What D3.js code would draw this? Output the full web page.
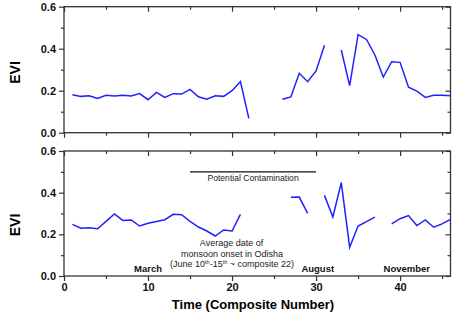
<!DOCTYPE html>
<html>
<head>
<meta charset="utf-8">
<script src="https://cdn.jsdelivr.net/npm/d3@7"></script>
<style>
  body { margin: 0; background: #fff; }
  svg { display: block; font-family: "Liberation Sans", Arial, sans-serif; }
</style>
</head>
<body>
<div id="chart"></div>
<script>
const composites = d3.range(1, 47)

// EVI values per composite, null where there is no data
const eviTop = [0.181, 0.173, 0.176, 0.163, 0.178, 0.175, 0.178, 0.175, 0.186, 0.157,
  0.192, 0.168, 0.186, 0.184, 0.206, 0.171, 0.159, 0.176, 0.173, 0.200,
  0.244, 0.068, null, null, null, 0.159, 0.170, 0.283, 0.243, 0.294,
  0.416, null, 0.394, 0.224, 0.467, 0.444, 0.370, 0.265, 0.338, 0.335,
  0.217, 0.198, 0.168, 0.178, 0.178, 0.176]

const eviBottom = [0.248, 0.229, 0.232, 0.227, 0.262, 0.298, 0.267, 0.269, 0.240, 0.253,
  0.262, 0.270, 0.296, 0.294, 0.262, 0.235, 0.216, 0.192, 0.221, 0.216,
  0.296, null, null, null, null, null, 0.378, 0.379, 0.301, null,
  0.387, 0.283, 0.448, 0.138, 0.240, 0.261, 0.283, null, 0.250, 0.275,
  0.290, 0.242, 0.269, 0.234, 0.250, 0.272]

const xMajor = [0, 10, 20, 30, 40]
const xMinor = [5, 15, 25, 35, 45]
const yMajor = [0, 0.2, 0.4, 0.6]
const yMinor = [0.1, 0.3, 0.5]

const months = [{label: "March", x: 10}, {label: "August", x: 30.2}, {label: "November", x: 40.8}]
const contamination = {from: 15, to: 30, evi: 0.5}
const monsoonX = 20

drawChart("#chart")

function drawChart(id){
  const canvas = {width: 454, height: 317, left: 64, right: 450.5}
  const svg = d3.select(id).append("svg")
    .attr("width", canvas.width).attr("height", canvas.height)

  const x = d3.scaleLinear().domain([0, 46]).range([canvas.left, canvas.right])
  const yTop = d3.scaleLinear().domain([0, 0.6]).range([132.7, 6.7])
  const yBottom = d3.scaleLinear().domain([0, 0.6]).range([276, 151])

  drawPanel(svg, x, yTop, eviTop, false, 72.5)
  drawPanel(svg, x, yBottom, eviBottom, true, 225)
  addAnnotations(svg, x, yBottom)

  svg.append("text").attr("x", 253).attr("y", 308.5)
    .attr("text-anchor", "middle").attr("font-weight", "bold").attr("font-size", 13)
    .text("Time (Composite Number)")
}

function drawPanel(svg, x, y, values, showXLabels, labelY){
  const [x0, x1] = x.range()
  const [yb, yt] = y.range()
  const axisColor = "#333"

  svg.append("rect").attr("x", x0).attr("y", yt)
    .attr("width", x1 - x0).attr("height", yb - yt)
    .attr("fill", "none").attr("stroke", axisColor).attr("stroke-width", 1.3)

  const g = svg.append("g").attr("font-family", "Liberation Sans, Arial, sans-serif")

  // left axis, ticks outward
  const left = g.append("g").attr("transform", `translate(${x0},0)`)
    .call(d3.axisLeft(y).tickValues(yMajor).tickSize(5).tickPadding(3).tickFormat(d3.format(".1f")))
  left.append("g").call(d3.axisLeft(y).tickValues(yMinor).tickSize(3).tickFormat(""))

  // bottom axis, ticks outward
  const bottom = g.append("g").attr("transform", `translate(0,${yb})`)
    .call(d3.axisBottom(x).tickValues(xMajor).tickSize(5).tickPadding(2)
      .tickFormat(showXLabels ? d3.format("d") : ""))
  bottom.append("g").call(d3.axisBottom(x).tickValues(xMinor).tickSize(3).tickFormat(""))

  // top and right frame, ticks inward
  const top = g.append("g").attr("transform", `translate(0,${yt})`)
    .call(d3.axisTop(x).tickValues(xMajor).tickSize(-5).tickFormat(""))
  top.append("g").call(d3.axisTop(x).tickValues(xMinor).tickSize(-3).tickFormat(""))
  const right = g.append("g").attr("transform", `translate(${x1},0)`)
    .call(d3.axisRight(y).tickValues(yMajor).tickSize(-5).tickFormat(""))
  right.append("g").call(d3.axisRight(y).tickValues(yMinor).tickSize(-3).tickFormat(""))

  g.selectAll(".domain").remove()
  g.selectAll(".tick line").attr("stroke", axisColor).attr("stroke-width", 1.2)
  g.selectAll(".tick text").attr("fill", "#111").attr("font-size", 11).attr("font-weight", "bold")

  const line = d3.line()
    .defined(d => d[1] !== null)
    .x(d => x(d[0])).y(d => y(d[1]))

  svg.append("path").datum(composites.map((c, i) => [c, values[i]]))
    .attr("d", line).attr("fill", "none")
    .attr("stroke", "#2020ff").attr("stroke-width", 1.5)

  svg.append("text")
    .attr("transform", `translate(19.5,${labelY}) rotate(-90)`)
    .attr("text-anchor", "middle").attr("font-weight", "bold").attr("font-size", 14)
    .text("EVI")
}

function addAnnotations(svg, x, y){
  svg.append("line")
    .attr("x1", x(contamination.from)).attr("x2", x(contamination.to))
    .attr("y1", y(contamination.evi)).attr("y2", y(contamination.evi))
    .attr("stroke", "#111").attr("stroke-width", 1.3)

  svg.append("text").attr("x", x((contamination.from + contamination.to) / 2)).attr("y", 180.5)
    .attr("text-anchor", "middle").attr("font-size", 8.6).attr("fill", "#222")
    .text("Potential Contamination")

  const note = svg.append("text").attr("text-anchor", "middle")
    .attr("font-size", 9).attr("fill", "#222")
  note.append("tspan").attr("x", x(monsoonX) - 0.5).attr("y", 246).text("Average date of")
  note.append("tspan").attr("x", x(monsoonX)).attr("y", 256.5).text("monsoon onset in Odisha")
  const last = note.append("tspan").attr("x", x(monsoonX)).attr("y", 266.5)
  last.append("tspan").text("(June 10")
  last.append("tspan").attr("dy", -3).attr("font-size", 5.5).text("th")
  last.append("tspan").attr("dy", 3).text("-15")
  last.append("tspan").attr("dy", -3).attr("font-size", 5.5).text("th")
  last.append("tspan").attr("dy", 3).text(" ~ composite 22)")

  svg.selectAll(".month").data(months).join("text")
    .attr("class", "month")
    .attr("x", d => x(d.x)).attr("y", 272)
    .attr("text-anchor", "middle").attr("font-weight", "bold").attr("font-size", 9.5)
    .attr("fill", "#111")
    .text(d => d.label)
}
</script>
</body>
</html>
